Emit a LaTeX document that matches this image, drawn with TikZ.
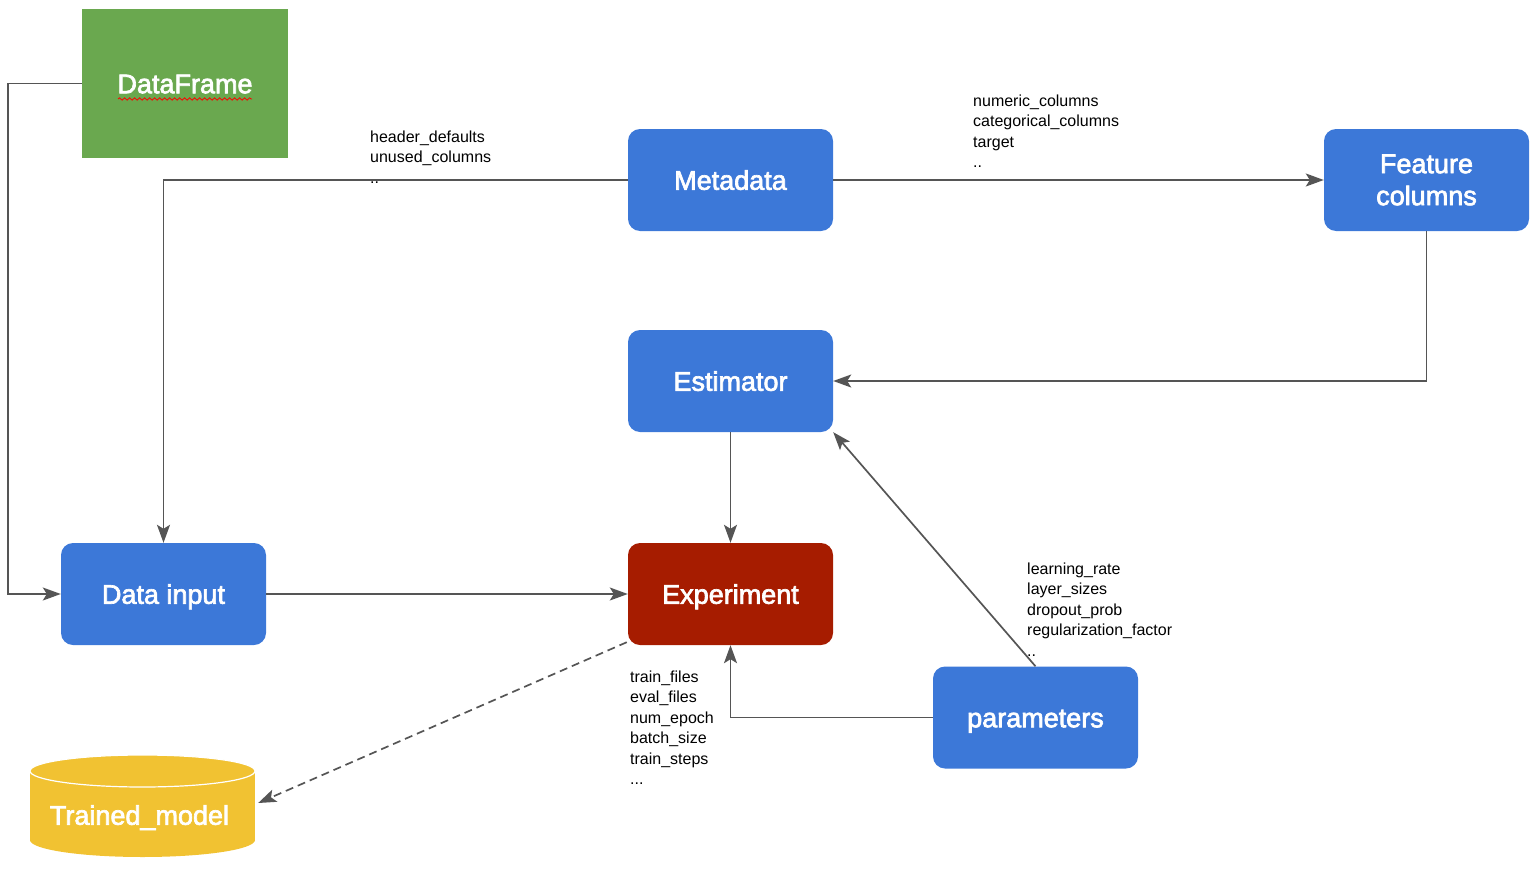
\documentclass[tikz,border=0pt]{standalone}
\usepackage{fontspec}
\setmainfont{Liberation Sans}
\newfontfamily\boxfont[FakeBold=2.5]{Liberation Sans}
\usetikzlibrary{arrows.meta,decorations.pathmorphing,calc}
\definecolor{gblue}{HTML}{3C78D8}
\definecolor{gred}{HTML}{A61C00}
\definecolor{ggreen}{HTML}{6AA84F}
\definecolor{gyellow}{HTML}{F1C232}
\definecolor{lineg}{HTML}{555555}
\begin{document}
\begin{tikzpicture}[x=1pt,y=-1pt,
  box/.style={rectangle, rounded corners=12pt, minimum width=205pt, minimum height=102pt,
    inner sep=0pt, text=white, font=\boxfont\fontsize{27}{32}\selectfont, align=center},
  one/.style={text height=19.5pt, text depth=0pt},
  conn/.style={draw=lineg, line width=1.7pt, -{Stealth[length=18pt,width=13pt,inset=4pt]}},
  lbl/.style={anchor=north west, inner sep=0pt, align=left, font=\fontsize{16}{20.5}\selectfont}]
\useasboundingbox (0,0) rectangle (1540,870);
% boxes
\node[box, one, rounded corners=0pt, fill=ggreen, minimum width=206pt, minimum height=149pt] (df) at (185,83.5) {DataFrame};
\draw[red, line width=0.8pt, decorate, decoration={snake, amplitude=1.2pt, segment length=5pt}] (118,99) -- (252,99);
\node[box, one, fill=gblue] (meta) at (730.5,180) {Metadata};
\node[box, fill=gblue] (fc) at (1426.5,180) {Feature\\columns};
\node[box, one, fill=gblue] (est) at (730.5,381) {Estimator};
\node[box, one, fill=gblue] (di) at (163.5,594) {Data input};
\node[box, one, fill=gred] (exp) at (730.5,594) {Experiment};
\node[box, one, fill=gblue] (par) at (1035.5,717.5) {parameters};
% cylinder
\fill[gyellow] (30,771) rectangle (255,840);
\fill[gyellow] (142.5,840) ellipse[x radius=112.5, y radius=17];
\fill[gyellow] (142.5,771) ellipse[x radius=112.5, y radius=16];
\draw[white, line width=1.2pt] (142.5,771) ellipse[x radius=112.5, y radius=16];
\node[box, one, fill=none, minimum width=225pt, minimum height=80pt] (tm) at (142.5,815) {\hspace*{-6pt}Trained\_model};
% labels
\node[lbl] (l1) at (370,130.3) {header\_defaults\\unused\_columns\\..};
\node[lbl] (l2) at (973,94.3) {numeric\_columns\\categorical\_columns\\target\\..};
\node[lbl] (l3) at (1027,562.3) {learning\_rate\\layer\_sizes\\dropout\_prob\\regularization\_factor\\..};
\node[lbl] (l4) at (630,670.3) {train\_files\\eval\_files\\num\_epoch\\batch\_size\\train\_steps\\...};
% connectors
\draw[conn] (df.west) -- ++(-74,0) |- (di.west);
\draw[conn] (meta.west) -| (di.north);
\draw[conn] (meta.east) -- (fc.west);
\draw[conn] (fc.south) |- (est.east);
\draw[conn] (est.south) -- (exp.north);
\draw[conn] (di.east) -- (exp.west);
\draw[conn] (par.west) -| (exp.south);
\draw[conn] (par.north) -- (est.south east);
\draw[conn, dash pattern=on 8pt off 5pt] ($(exp.south west)+(-1,-3)$) -- ($(tm.east)+(3,-12)$);
\end{tikzpicture}
\end{document}
